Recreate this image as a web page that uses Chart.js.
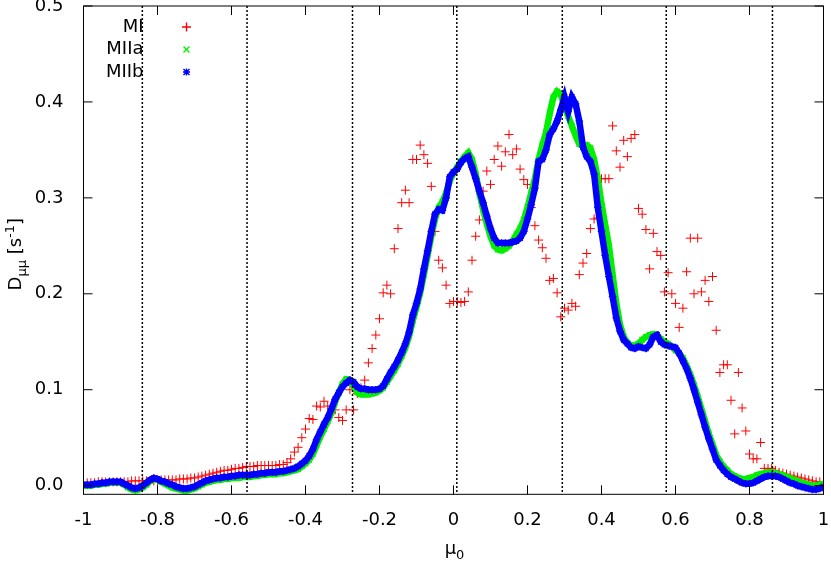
<!DOCTYPE html>
<html><head><meta charset="utf-8">
<script src="https://cdn.jsdelivr.net/npm/chart.js@4.4.0/dist/chart.umd.min.js"></script>
<style>html,body{margin:0;padding:0;background:#fff}#wrap{width:831px;height:562px}</style>
</head><body><div id="wrap"><canvas id="c" width="831" height="562"></canvas></div>
<script>
// grid of mu0 values: -1.00 ... 1.00 in steps of 0.01 (201 points)
const muStart = -1, muStep = 0.01;

const miValues = [
 .003,.003,.003,.003,.004,.004,.004,.004,.004,.004,
 .004,.004,.004,.005,.005,.005,.005,.005,.005,.005,
 .005,.006,.006,.006,.006,.006,.007,.007,.007,.008,
 .008,.009,.010,.011,.012,.013,.014,.015,.016,.016,
 .017,.018,.018,.019,.020,.020,.020,.021,.021,.021,
 .021,.021,.021,.022,.022,.024,.028,.035,.040,.050,
 .059,.070,.069,.083,.082,.088,.083,.076,.079,.071,
 .068,.079,.100,.079,.096,.102,.110,.128,.143,.157,
 .174,.201,.209,.200,.247,.268,.295,.308,.295,.340,
 .340,.355,.345,.336,.312,.265,.235,.227,.209,.190,
 .192,.192,.191,.192,.202,.235,.260,.277,.307,.328,
 .314,.340,.354,.333,.348,.366,.345,.351,.330,.319,
 .314,.290,.271,.256,.248,.237,.214,.216,.201,.176,
 .185,.183,.190,.187,.220,.232,.242,.268,.278,.279,
 .320,.320,.320,.375,.349,.332,.360,.343,.362,.366,
 .289,.283,.267,.226,.263,.244,.240,.202,.222,.200,
 .190,.165,.185,.223,.258,.200,.258,.202,.214,.192,
 .218,.162,.118,.126,.126,.089,.054,.118,.081,.057,
 .033,.028,.028,.045,.018,.018,.018,.016,.014,.013,
 .012,.011,.010,.009,.008,.007,.006,.005,.004,.004,
 .003
];

const miiaValues = [
 .000,.000,.000,.001,.001,.002,.002,.003,.003,.003,
 .003,.001,-.002,-.004,-.005,-.004,-.002,.001,.005,.007,
 .006,.004,.002,.000,-.002,-.003,-.004,-.005,-.005,-.004,
 -.003,-.001,.001,.003,.004,.005,.006,.006,.007,.007,
 .008,.008,.008,.009,.009,.009,.010,.010,.011,.011,
 .012,.012,.012,.013,.013,.014,.015,.016,.017,.020,
 .023,.027,.033,.042,.051,.059,.067,.076,.087,.097,
 .106,.111,.110,.104,.097,.095,.095,.095,.096,.097,
 .099,.102,.108,.114,.120,.127,.135,.144,.156,.172,
 .186,.201,.220,.240,.260,.278,.290,.296,.305,.318,
 .326,.332,.338,.343,.347,.340,.325,.305,.288,.273,
 .260,.250,.246,.245,.247,.250,.255,.262,.268,.277,
 .290,.305,.320,.340,.355,.368,.388,.405,.411,.408,
 .395,.385,.375,.365,.356,.354,.355,.352,.340,.320,
 .294,.272,.250,.220,.190,.168,.155,.149,.146,.146,
 .148,.152,.155,.157,.158,.157,.153,.150,.148,.145,
 .141,.138,.133,.125,.116,.105,.093,.080,.067,.054,
 .043,.032,.025,.020,.016,.012,.010,.008,.007,.007,
 .008,.009,.011,.012,.013,.014,.014,.013,.012,.011,
 .009,.008,.006,.005,.003,.002,.001,.000,.000,.001,
 .002
];

const miibValues = [
 .001,.001,.001,.002,.002,.003,.003,.004,.004,.004,
 .004,.002,.000,-.002,-.003,-.002,.000,.003,.006,.008,
 .007,.005,.004,.002,.001,-.001,-.002,-.003,-.003,-.002,
 -.001,.001,.003,.005,.006,.007,.008,.008,.009,.009,
 .010,.010,.011,.011,.011,.011,.012,.012,.013,.013,
 .014,.014,.014,.015,.015,.016,.017,.018,.020,.023,
 .026,.031,.038,.048,.056,.064,.071,.080,.090,.097,
 .103,.107,.110,.108,.103,.101,.101,.100,.100,.100,
 .101,.104,.111,.118,.124,.131,.139,.148,.160,.178,
 .190,.205,.226,.245,.265,.283,.288,.287,.300,.322,
 .327,.330,.337,.341,.343,.332,.320,.307,.295,.281,
 .268,.258,.253,.253,.253,.253,.254,.255,.258,.265,
 .278,.293,.310,.338,.340,.350,.366,.372,.380,.392,
 .405,.390,.405,.398,.380,.353,.343,.338,.325,.290,
 .265,.240,.218,.197,.175,.161,.152,.148,.144,.143,
 .145,.144,.143,.147,.155,.157,.150,.147,.146,.145,
 .144,.138,.130,.122,.112,.100,.087,.074,.061,.049,
 .038,.027,.021,.016,.012,.009,.007,.005,.003,.002,
 .002,.003,.005,.007,.009,.010,.010,.010,.009,.007,
 .005,.003,.002,.000,-.001,-.002,-.003,-.004,-.004,-.003,
 -.001
];

const seriesNames = ['MI', 'MIIa', 'MIIb'];
const xTicks = [-1, -0.8, -0.6, -0.4, -0.2, 0, 0.2, 0.4, 0.6, 0.8, 1];
const xTickLabels = ['-1', '-0.8', '-0.6', '-0.4', '-0.2', '0', '0.2', '0.4', '0.6', '0.8', '1'];
const yTicks = [0, 0.1, 0.2, 0.3, 0.4, 0.5];
const yTickLabels = ['0.0', '0.1', '0.2', '0.3', '0.4', '0.5'];
const nodeLines = [-0.841, -0.558, -0.273, 0.009, 0.294, 0.575, 0.862];

const mu = miValues.map((_, i) => +(muStart + i * muStep).toFixed(2));
const pts = vals => vals.map((v, i) => ({x: mu[i], y: v}));

const FONT = '"DejaVu Sans", sans-serif';
const RED = '#ff0000', GREEN = '#00f000', BLUE = '#0000ff';

const decor = {
  id: 'decor',
  afterDatasetsDraw(chart) {
    const {ctx, chartArea: a, scales: {x, y}} = chart;
    ctx.save();
    ctx.strokeStyle = '#000';
    ctx.lineWidth = 1.5;
    ctx.setLineDash([2, 2]);
    nodeLines.forEach(v => {
      const px = x.getPixelForValue(v);
      ctx.beginPath(); ctx.moveTo(px, a.top); ctx.lineTo(px, a.bottom); ctx.stroke();
    });
    ctx.setLineDash([]);
    ctx.lineWidth = 1;
    ctx.strokeRect(a.left, a.top, a.right - a.left, a.bottom - a.top);
    const tl = 9;
    ctx.beginPath();
    xTicks.forEach(v => {
      const px = x.getPixelForValue(v);
      ctx.moveTo(px, a.bottom); ctx.lineTo(px, a.bottom - tl);
      ctx.moveTo(px, a.top); ctx.lineTo(px, a.top + tl);
    });
    yTicks.forEach(v => {
      const py = y.getPixelForValue(v);
      ctx.moveTo(a.left, py); ctx.lineTo(a.left + tl, py);
      ctx.moveTo(a.right, py); ctx.lineTo(a.right - tl, py);
    });
    ctx.stroke();
    ctx.restore();
  },
  afterDraw(chart) {
    const {ctx, chartArea: a} = chart;
    ctx.save();
    ctx.fillStyle = '#000';
    // legend
    ctx.font = '18px ' + FONT;
    ctx.textAlign = 'right';
    ctx.textBaseline = 'middle';
    const lx = 143.5, mx = 186.5, ly0 = 27, dy = 22.5;
    const cols = [RED, GREEN, BLUE];
    seriesNames.forEach((n, i) => {
      const yy = ly0 + i * dy;
      ctx.fillStyle = '#000';
      ctx.fillText(n, lx, yy);
      ctx.strokeStyle = cols[i];
      ctx.lineWidth = 1.4;
      ctx.beginPath();
      if (i === 0) {
        ctx.moveTo(mx - 4.5, yy); ctx.lineTo(mx + 4.5, yy);
        ctx.moveTo(mx, yy - 4.5); ctx.lineTo(mx, yy + 4.5);
      } else if (i === 1) {
        ctx.moveTo(mx - 3, yy - 3); ctx.lineTo(mx + 3, yy + 3);
        ctx.moveTo(mx - 3, yy + 3); ctx.lineTo(mx + 3, yy - 3);
      } else {
        ctx.moveTo(mx - 3, yy - 3); ctx.lineTo(mx + 3, yy + 3);
        ctx.moveTo(mx - 3, yy + 3); ctx.lineTo(mx + 3, yy - 3);
        ctx.moveTo(mx - 3.5, yy); ctx.lineTo(mx + 3.5, yy);
        ctx.moveTo(mx, yy - 3.5); ctx.lineTo(mx, yy + 3.5);
      }
      ctx.stroke();
    });
    // x title: mu_0
    ctx.fillStyle = '#000';
    ctx.textAlign = 'left';
    ctx.textBaseline = 'alphabetic';
    const big = '18px ' + FONT, small = '13px ' + FONT;
    ctx.font = big; const w1 = ctx.measureText('μ').width;
    ctx.font = small; const w2 = ctx.measureText('0').width;
    const cx = (a.left + a.right) / 2 + 1;
    let sx = cx - (w1 + w2) / 2;
    ctx.font = big; ctx.fillText('μ', sx, 554);
    ctx.font = small; ctx.fillText('0', sx + w1, 559);
    // y title: D_{mu mu} [s^{-1}]
    const parts = [['D', big, 0], ['μμ', small, 5], [' [s', big, 0], ['-1', small, -7], [']', big, 0]];
    let tw = 0;
    parts.forEach(p => { ctx.font = p[1]; p.push(ctx.measureText(p[0]).width); tw += p[3]; });
    ctx.translate(21, (a.top + a.bottom) / 2 + 4);
    ctx.rotate(-Math.PI / 2);
    let px = -tw / 2;
    parts.forEach(p => { ctx.font = p[1]; ctx.fillText(p[0], px, p[2]); px += p[3]; });
    ctx.restore();
  }
};

new Chart(document.getElementById('c'), {
  type: 'scatter',
  data: {
    datasets: [
      {label: seriesNames[2], data: pts(miibValues), order: 0, showLine: true,
       borderColor: BLUE, backgroundColor: BLUE, borderWidth: 6.5, tension: 0,
       pointStyle: 'star', pointRadius: 3.8, pointBorderWidth: 1.2, pointBorderColor: BLUE},
      {label: seriesNames[1], data: pts(miiaValues), order: 1, showLine: true,
       borderColor: GREEN, backgroundColor: GREEN, borderWidth: 6.5, tension: 0,
       pointStyle: 'crossRot', pointRadius: 3.8, pointBorderWidth: 1.2, pointBorderColor: GREEN},
      {label: seriesNames[0], data: pts(miValues), order: 2, showLine: false,
       borderColor: RED, backgroundColor: RED,
       pointStyle: 'cross', pointRadius: 4.5, pointBorderWidth: 1, pointBorderColor: RED}
    ]
  },
  options: {
    responsive: false,
    animation: false,
    devicePixelRatio: 1,
    layout: {padding: {left: 0, right: 7.5, top: 6, bottom: 0}},
    plugins: {legend: {display: false}, tooltip: {enabled: false}},
    elements: {point: {hoverRadius: 0}},
    scales: {
      x: {
        type: 'linear', min: -1, max: 1,
        grid: {display: false}, border: {display: false},
        ticks: {padding: 7, color: '#000', font: {family: FONT, size: 18},
                maxRotation: 0, autoSkip: false,
                callback: (v, i) => xTickLabels[i]},
        afterBuildTicks: s => { s.ticks = xTicks.map(v => ({value: v})); },
        afterFit: s => { s.height = 67.7; s.paddingLeft = 0; s.paddingRight = 0; }
      },
      y: {
        type: 'linear', min: -0.009, max: 0.5,
        grid: {display: false}, border: {display: false},
        ticks: {padding: 12, color: '#000', font: {family: FONT, size: 18},
                autoSkip: false, callback: (v, i) => yTickLabels[i]},
        afterBuildTicks: s => { s.ticks = yTicks.map(v => ({value: v})); },
        afterFit: s => { s.width = 83.5; s.paddingTop = 0; s.paddingBottom = 0; }
      }
    }
  },
  plugins: [decor]
});
</script>
</body></html>
